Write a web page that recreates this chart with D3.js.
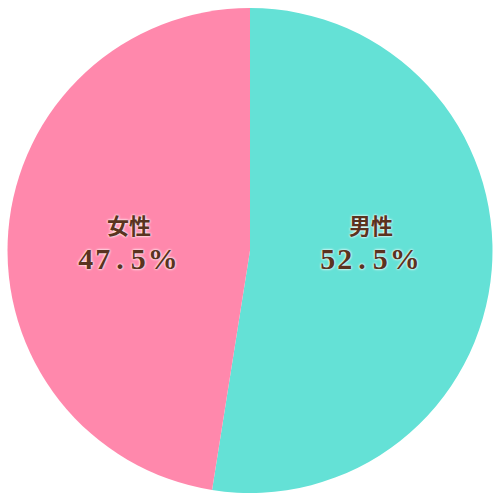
<!DOCTYPE html>
<html><head><meta charset="utf-8">
<script src="https://cdn.jsdelivr.net/npm/d3@7"></script>
<style>body{margin:0;background:#fff}</style>
</head><body>
<svg id="c" width="500" height="500"></svg>
<script>
const categories = ["男性", "女性"];
const values = [52.5, 47.5];
const valueLabels = ["52.5%", "47.5%"];
const colors = ["#64E1D6", "#FF88AC"];

const svg = d3.select("#c");
const cx = 250, cy = 250.5, R = 242.5;
const g = svg.append("g").attr("transform", `translate(${cx},${cy})`);
const pie = d3.pie().sort(null).value(d => d)(values);
const arc = d3.arc().innerRadius(0).outerRadius(R);
const labelArc = d3.arc().innerRadius(R * 0.5).outerRadius(R * 0.5);

g.selectAll("path").data(pie).join("path")
  .attr("d", arc)
  .attr("fill", (d, i) => colors[i]);

const lab = g.selectAll("g.lab").data(pie).join("g").attr("class", "lab")
  .attr("transform", d => { const c = labelArc.centroid(d); return `translate(${c[0]},7)`; });

const style = "fill:#5a3320;text-shadow:0 0 3px #fff,0 0 2px #fff;";
lab.append("text")
  .attr("y", -34)
  .attr("text-anchor", "middle")
  .attr("dominant-baseline", "central")
  .attr("style", style + "font-family:'Noto Sans CJK JP';font-weight:700;font-size:22px;")
  .text((d, i) => categories[i]);
const vt = lab.append("text")
  .attr("y", 0)
  .attr("text-anchor", "middle")
  .attr("dominant-baseline", "central")
  .attr("style", style + "font-family:'Liberation Serif';font-weight:700;font-size:30px;letter-spacing:2px;");
vt.each(function(d, i) {
  const s = valueLabels[i];
  const t = d3.select(this);
  const p = s.indexOf(".");
  t.append("tspan").text(s.slice(0, p));
  t.append("tspan").attr("dx", 4).text(".");
  t.append("tspan").attr("dx", 5).text(s.slice(p + 1));
});
</script>
</body></html>
